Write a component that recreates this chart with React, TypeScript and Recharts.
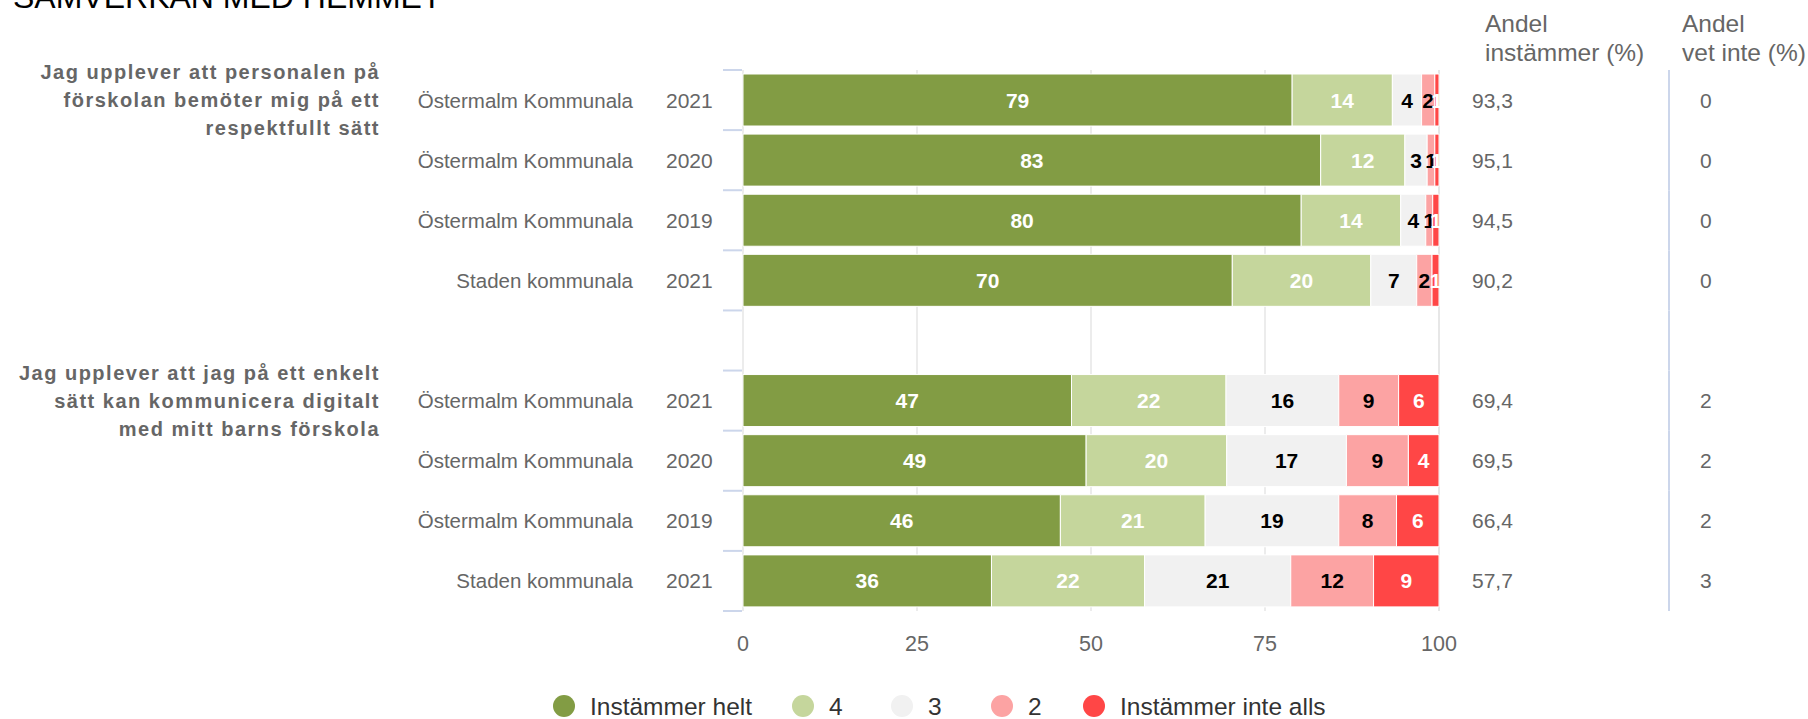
import React from 'react';
import { BarChart, Bar, XAxis, YAxis, CartesianGrid, LabelList } from 'recharts';

// rows, top to bottom (the empty row separates the two questions)
const rowNames = [
  'Östermalm Kommunala',
  'Östermalm Kommunala',
  'Östermalm Kommunala',
  'Staden kommunala',
  '',
  'Östermalm Kommunala',
  'Östermalm Kommunala',
  'Östermalm Kommunala',
  'Staden kommunala',
];
const rowYears = ['2021', '2020', '2019', '2021', '', '2021', '2020', '2019', '2021'];

const instammerHelt = [78.9, 83.0, 80.2, 70.3, null, 47.2, 49.3, 45.6, 35.7];
const svar4 = [14.4, 12.1, 14.3, 19.9, null, 22.2, 20.2, 20.8, 22.0];
const svar3 = [4.2, 3.2, 3.6, 6.6, null, 16.2, 17.2, 19.2, 21.0];
const svar2 = [1.9, 1.1, 1.0, 2.2, null, 8.6, 8.9, 8.3, 11.9];
const instammerInteAlls = [0.6, 0.6, 0.9, 1.0, null, 5.8, 4.4, 6.1, 9.4];

const andelInstammer = [93.3, 95.1, 94.5, 90.2, null, 69.4, 69.5, 66.4, 57.7];
const andelVetInte = [0, 0, 0, 0, null, 2, 2, 2, 3];

const questions = [
  { row: 0, lines: ['Jag upplever att personalen på', 'förskolan bemöter mig på ett', 'respektfullt sätt'] },
  { row: 5, lines: ['Jag upplever att jag på ett enkelt', 'sätt kan kommunicera digitalt', 'med mitt barns förskola'] },
];

const xTicks = [0, 25, 50, 75, 100];

const seriesNames = ['Instämmer helt', '4', '3', '2', 'Instämmer inte alls'];
const seriesValues = [instammerHelt, svar4, svar3, svar2, instammerInteAlls];
const seriesColors = ['#829c44', '#c5d69c', '#f1f1f1', '#fca3a3', '#ff4646'];
const labelColors = ['#ffffff', '#ffffff', '#000000', '#000000', '#ffffff'];

const data = rowNames.map((name, i) => {
  const row: Record<string, any> = { key: `r${i}`, name };
  seriesValues.forEach((vals, s) => {
    row[`s${s}`] = vals[i];
  });
  return row;
});

const FONT = '"Liberation Sans", Arial, Helvetica, sans-serif';
const W = 1808;
const H = 719;
const PLOT_TOP = 70;
const PLOT_BOTTOM = 611;
const PLOT_LEFT = 743;
const PLOT_RIGHT = 1439;
const BAND = (PLOT_BOTTOM - PLOT_TOP) / rowNames.length;

const fmt = (v: number) => v.toFixed(1).replace('.', ',');

const CategoryTick = (props: any) => {
  const { y, payload } = props;
  const i = parseInt(String(payload.value).slice(1), 10);
  const q = questions.find((g) => g.row === i);
  const top = y - BAND / 2;
  const bottom = y + BAND / 2;
  return (
    <g fontFamily={FONT}>
      {q &&
        q.lines.map((line, k) => (
          <text
            key={k}
            x={380}
            y={y + (k - (q.lines.length - 1) / 2) * 28}
            textAnchor="end"
            dominantBaseline="central"
            fontSize={20}
            fontWeight="bold"
            letterSpacing={1.5}
            fill="#666666"
          >
            {line}
          </text>
        ))}
      <text x={633} y={y} textAnchor="end" dominantBaseline="central" fontSize={20.5} fill="#666666">
        {rowNames[i]}
      </text>
      <text x={666} y={y} textAnchor="start" dominantBaseline="central" fontSize={21} fill="#666666">
        {rowYears[i]}
      </text>
      <line x1={723} x2={PLOT_LEFT - 1} y1={top} y2={top} stroke="#ccd6eb" strokeWidth={2} />
      {i === rowNames.length - 1 && (
        <line x1={723} x2={PLOT_LEFT - 1} y1={bottom} y2={bottom} stroke="#ccd6eb" strokeWidth={2} />
      )}
      {andelInstammer[i] != null && (
        <text x={1472} y={y} dominantBaseline="central" fontSize={21} fill="#666666">
          {fmt(andelInstammer[i] as number)}
        </text>
      )}
      {andelVetInte[i] != null && (
        <text x={1700} y={y} dominantBaseline="central" fontSize={21} fill="#666666">
          {andelVetInte[i]}
        </text>
      )}
      <line x1={1669} x2={1669} y1={top} y2={bottom} stroke="#ccd6eb" strokeWidth={2} />
    </g>
  );
};

const ValueTick = (props: any) => {
  const { x, payload } = props;
  return (
    <text
      x={x}
      y={PLOT_BOTTOM + 33}
      textAnchor="middle"
      dominantBaseline="central"
      fontSize={21.5}
      fontFamily={FONT}
      fill="#666666"
    >
      {payload.value}
    </text>
  );
};

const makeLabel = (s: number) => (props: any) => {
  const { x, y, width, height, value } = props;
  if (value == null) return null;
  return (
    <text
      x={Number(x) + Number(width) / 2}
      y={Number(y) + Number(height) / 2}
      textAnchor="middle"
      dominantBaseline="central"
      fontSize={21}
      fontWeight="bold"
      fontFamily={FONT}
      fill={labelColors[s]}
    >
      {Math.round(value)}
    </text>
  );
};

const legendX = [564, 803, 902, 1002, 1094];

export default function App() {
  return (
    <div style={{ position: 'absolute', left: 0, top: 0, width: W, height: H, background: '#fff', overflow: 'hidden' }}>
      <BarChart
        width={W}
        height={H}
        data={data}
        layout="vertical"
        margin={{ top: PLOT_TOP, right: W - PLOT_RIGHT, bottom: H - PLOT_BOTTOM - 30, left: 0 }}
      >
        <CartesianGrid horizontal={false} stroke="#e6e6e6" strokeWidth={1.5} />
        <XAxis
          type="number"
          domain={[0, 100]}
          ticks={xTicks}
          axisLine={false}
          tickLine={false}
          height={30}
          tick={ValueTick}
        />
        <YAxis
          type="category"
          dataKey="key"
          width={PLOT_LEFT}
          axisLine={false}
          tickLine={false}
          interval={0}
          tick={CategoryTick}
        />
        {seriesNames.map((name, s) => (
          <Bar
            key={name}
            name={name}
            dataKey={`s${s}`}
            stackId="a"
            fill={seriesColors[s]}
            stroke="#ffffff"
            strokeWidth={1}
            barSize={52}
            isAnimationActive={false}
          >
            <LabelList dataKey={`s${s}`} content={makeLabel(s)} />
          </Bar>
        ))}
      </BarChart>

      <svg
        width={W}
        height={H}
        style={{ position: 'absolute', left: 0, top: 0, pointerEvents: 'none' }}
        fontFamily={FONT}
      >
        <text x={13} y={8} fontSize={32} fill="#000000">
          SAMVERKAN MED HEMMET
        </text>
        <text x={1485} y={23} dominantBaseline="central" fontSize={24.5} fill="#666666">
          Andel
        </text>
        <text x={1485} y={52} dominantBaseline="central" fontSize={24.5} fill="#666666">
          instämmer (%)
        </text>
        <text x={1682} y={23} dominantBaseline="central" fontSize={24.5} fill="#666666">
          Andel
        </text>
        <text x={1682} y={52} dominantBaseline="central" fontSize={24.5} fill="#666666">
          vet inte (%)
        </text>
        {seriesNames.map((name, s) => (
          <g key={name}>
            <circle cx={legendX[s]} cy={706} r={11} fill={seriesColors[s]} />
            <text x={legendX[s] + 26} y={706} dominantBaseline="central" fontSize={24.5} fill="#333333">
              {name}
            </text>
          </g>
        ))}
      </svg>
    </div>
  );
}
